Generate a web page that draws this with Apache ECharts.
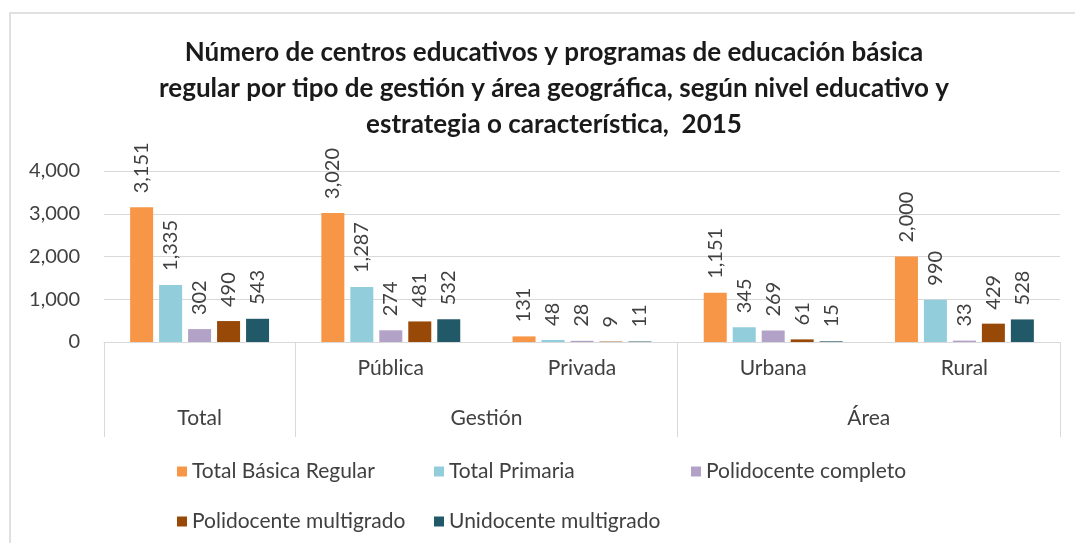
<!DOCTYPE html>
<html>
<head>
<meta charset="utf-8">
<script src="https://cdn.jsdelivr.net/npm/echarts@6/dist/echarts.min.js"></script>
<style>
  html, body { margin: 0; padding: 0; background: #fff; }
  #frame { position: absolute; left: 9px; top: 12px; width: 1100px; height: 600px; border: 2px solid #e0e0e0; box-sizing: border-box; }
  #main { position: absolute; left: 0; top: 0; width: 1075px; height: 543px; }
</style>
</head>
<body>
<div id="frame"></div>
<div id="main"></div>
<script>
// categorias y grupos del eje
var categorias = ['Total', 'Pública', 'Privada', 'Urbana', 'Rural'];
var grupos = ['Total', 'Gestión', 'Área'];
var gruposSpan = [1, 2, 2];

var series = ['Total Básica Regular', 'Total Primaria', 'Polidocente completo', 'Polidocente multigrado', 'Unidocente multigrado'];
var totalBasica = [3151, 3020, 131, 1151, 2000];
var totalPrimaria = [1335, 1287, 48, 345, 990];
var poliCompleto = [302, 274, 28, 269, 33];
var poliMulti = [490, 481, 9, 61, 429];
var uniMulti = [543, 532, 11, 15, 528];

var yTicks = [0, 1000, 2000, 3000, 4000];

var colores = ['#F79646', '#92CDDC', '#B3A2C7', '#984807', '#215968'];
var valores = [totalBasica, totalPrimaria, poliCompleto, poliMulti, uniMulti];

// eje de grupos en medias celdas: 2 por categoria + 1
var mitad = [];
var bordes = [0];
var pos = 0;
for (var i = 0; i <= categorias.length * 2; i++) mitad.push('');
for (var g = 0; g < grupos.length; g++) {
  mitad[pos * 2 + gruposSpan[g]] = grupos[g];
  pos += gruposSpan[g];
  bordes.push(pos * 2);
}

var fuente = 'Lato';
var fmt = function (v) { return Number(v).toLocaleString('en-US'); };

var myChart = echarts.init(document.getElementById('main'));
myChart.setOption({
  animation: false,
  title: {
    text: 'Número de centros educativos y programas de educación básica\nregular por tipo de gestión y área geográfica, según nivel educativo y\nestrategia o característica,  2015',
    left: 549,
    textAlign: 'center',
    top: 30,
    textStyle: { fontFamily: fuente, fontWeight: 'bold', fontSize: 26, lineHeight: 36, color: '#1a1a1a' }
  },
  legend: {
    data: series,
    left: 172,
    top: 450,
    width: 790,
    icon: 'rect',
    itemWidth: 10,
    itemHeight: 10,
    itemGap: 17,
    textStyle: { fontFamily: fuente, fontSize: 21, color: '#404040', width: 225, height: 33, lineHeight: 33 }
  },
  grid: { left: 104, right: 15, top: 171, bottom: 201 },
  xAxis: [{
    type: 'category',
    data: categorias,
    axisLine: { lineStyle: { color: '#d9d9d9' } },
    axisTick: { show: false },
    axisLabel: {
      margin: 16,
      fontFamily: fuente,
      fontSize: 21,
      color: '#404040',
      formatter: function (v, idx) { return idx === 0 ? '' : v; }
    }
  }, {
    type: 'category',
    data: mitad,
    position: 'bottom',
    boundaryGap: false,
    axisLine: { show: false },
    axisTick: {
      show: true,
      length: 95,
      interval: function (idx) { return bordes.indexOf(idx) >= 0; },
      lineStyle: { color: '#d9d9d9' }
    },
    axisLabel: {
      interval: 0,
      margin: 66,
      fontFamily: fuente,
      fontSize: 21,
      color: '#404040'
    }
  }],
  yAxis: {
    type: 'value',
    min: yTicks[0],
    max: yTicks[yTicks.length - 1],
    interval: 1000,
    axisLine: { show: false },
    axisTick: { show: false },
    splitLine: { lineStyle: { color: '#d9d9d9' } },
    axisLabel: { margin: 24, fontFamily: fuente, fontSize: 20, color: '#404040', formatter: fmt }
  },
  series: series.map(function (name, k) {
    return {
      name: name,
      type: 'bar',
      data: valores[k],
      barWidth: 23,
      barGap: '26%',
      itemStyle: { color: colores[k] },
      label: {
        show: true,
        position: 'top',
        rotate: 90,
        align: 'left',
        verticalAlign: 'middle',
        distance: 14,
        fontFamily: fuente,
        fontSize: 20,
        color: '#404040',
        formatter: function (p) { return fmt(p.value); }
      }
    };
  })
});
</script>
</body>
</html>
